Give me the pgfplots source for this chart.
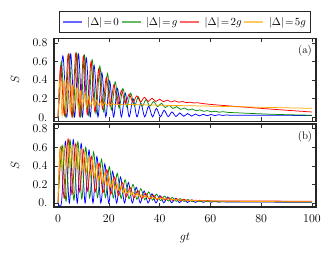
\documentclass[border=0pt]{standalone}
\usepackage{pgfplots}
\pgfplotsset{compat=1.18}
\definecolor{cB}{rgb}{0,0,1}
\definecolor{cG}{rgb}{0,0.55,0}
\definecolor{cR}{rgb}{1,0,0}
\definecolor{cO}{rgb}{1,0.65,0}
\newcommand{\eq}{\mskip2mu{=}\mskip2mu}
\begin{document}
\begin{tikzpicture}
\path[use as bounding box] (0bp,0bp) rectangle (331bp,-254bp);
\pgfplotsset{
  myax/.style={
    scale only axis, width=262bp, height=83bp,
    xmin=-1.6, xmax=101.6, ymin=-0.043, ymax=0.85,
    xtick={0,20,...,100}, ytick={0,0.2,0.4,0.6,0.8},
    yticklabels={$0.$,$0.2$,$0.4$,$0.6$,$0.8$},
    tick align=inside,
    major tick length=4bp,
    every tick/.style={black!80, line width=0.6bp},
    axis line style={black!85, line width=1.3bp},
    tick label style={font=\fontsize{12}{14}\selectfont},
    label style={font=\fontsize{12}{14}\selectfont},
    ylabel={$S$},
    ylabel style={at={(axis description cs:-0.149,0.5)}, anchor=center},
    yticklabel style={xshift=-3bp},
    xticklabel style={yshift=-4bp},
    every axis plot/.append style={line width=0.75bp, smooth, tension=0.5},
  }
}
\begin{axis}[myax, at={(54bp,-38.3bp)}, anchor=north west, xticklabels={},
  legend style={at={(0.5,1)}, anchor=south, yshift=5.3bp, draw=black!85, line width=1.3bp,
    legend columns=4, font=\fontsize{11.2}{13}\selectfont, inner xsep=2.5bp, inner ysep=3.5bp,
    /tikz/every odd column/.append style={column sep=2.5bp}},
  legend image code/.code={\draw[#1, line width=1.6bp] (0bp,0bp) -- (19bp,0bp);}]
\addlegendimage{draw=cB!60}\addlegendentry{$|\Delta|\eq0$}
\addlegendimage{draw=cG!60}\addlegendentry{$|\Delta|\eq g$}
\addlegendimage{draw=cR!60}\addlegendentry{$|\Delta|\eq2g$}
\addlegendimage{draw=cO!60}\addlegendentry{$|\Delta|\eq5g$}
% blue (a)
\addplot[cB, forget plot] coordinates {(0,0) (1.9,0.66) (3.44,0.005) (4.97,0.68) (6.51,0.005) (8.04,0.68) (9.58,0.005) (11.11,0.64) (12.65,0.005) (14.18,0.56) (15.72,0.005) (17.25,0.48) (18.79,0.005) (20.32,0.39) (21.86,0.005) (23.39,0.31) (24.93,0.005) (26.46,0.26) (28.0,0.005) (29.53,0.2) (31.07,0.005) (32.6,0.15) (34.14,0.005) (35.67,0.12) (37.21,0.005) (38.74,0.097) (40.28,0.006) (41.81,0.076) (43.35,0.007) (44.88,0.058) (46.42,0.009) (47.95,0.047) (49.49,0.011) (51.02,0.04) (52.56,0.013) (54.09,0.035) (55.63,0.015) (57.16,0.032) (58.7,0.017) (60.23,0.03) (61.77,0.019) (63.3,0.028) (64.84,0.02) (66.37,0.026) (67.91,0.021) (70,0.023) (80,0.022) (90,0.021) (100,0.02)};
% green (a)
\addplot[cG, forget plot] coordinates {(0,0) (1.3,0.6) (2.82,0.003) (4.33,0.68) (5.85,0.003) (7.36,0.69) (8.88,0.005) (10.39,0.67) (11.91,0.02) (13.42,0.62) (14.94,0.04) (16.45,0.55) (17.97,0.06) (19.48,0.47) (21.0,0.08) (22.51,0.38) (24.03,0.1) (25.54,0.31) (27.06,0.11) (28.57,0.26) (30.09,0.12) (31.6,0.22) (33.12,0.12) (34.63,0.19) (36.15,0.12) (37.66,0.17) (39.18,0.115) (40.69,0.15) (42.21,0.105) (43.72,0.13) (45.24,0.095) (46.75,0.115) (48.27,0.085) (49.78,0.1) (51.3,0.078) (52.81,0.09) (54.33,0.07) (55.84,0.08) (57.36,0.064) (58.87,0.072) (60.39,0.059) (61.9,0.065) (63.42,0.055) (64.93,0.06) (67,0.053) (70,0.049) (80,0.037) (90,0.028) (100,0.022)};
% red (a)
\addplot[cR, forget plot] coordinates {(0,0) (1,0.55) (2.5,0.02) (4,0.68) (5.5,0.003) (7,0.69) (8.5,0.01) (10,0.66) (11.5,0.03) (13,0.6) (14.5,0.06) (16,0.52) (17.5,0.09) (19,0.43) (20.5,0.12) (22,0.35) (23.5,0.14) (25,0.29) (26.5,0.15) (28,0.25) (29.5,0.16) (31,0.23) (32.5,0.165) (34,0.215) (35.5,0.17) (37,0.205) (38.5,0.17) (40,0.195) (41.5,0.168) (43,0.185) (44.5,0.165) (46,0.178) (47.5,0.162) (49,0.17) (50.5,0.158) (52,0.162) (53.5,0.155) (55,0.156) (56.5,0.15) (60,0.139) (70,0.117) (80,0.096) (90,0.076) (100,0.057)};
% orange (a)
\addplot[cO, forget plot] coordinates {(0,0) (0.8,0.42) (1.6,0.02) (2.4,0.4) (3.2,0.04) (4.0,0.37) (4.8,0.06) (5.6,0.34) (6.4,0.075) (7.2,0.31) (8.0,0.09) (8.8,0.28) (9.6,0.1) (10.4,0.25) (11.2,0.11) (12.0,0.22) (12.8,0.115) (13.6,0.2) (14.4,0.12) (15.2,0.185) (16.0,0.125) (16.8,0.17) (17.6,0.128) (18.4,0.16) (19.2,0.13) (20.0,0.155) (20.8,0.132) (21.6,0.15) (22.4,0.134) (23.2,0.145) (24,0.136) (26,0.14) (30,0.137) (40,0.13) (50,0.125) (60,0.12) (70,0.114) (80,0.108) (90,0.102) (100,0.097)};
\node[font=\fontsize{11}{13}\selectfont] at (rel axis cs:0.958,0.845) {(a)};
\end{axis}
\begin{axis}[myax, at={(54bp,-124bp)}, anchor=north west,
  xlabel={$gt$}, xlabel style={at={(axis description cs:0.5,-0.37)}, anchor=center}]
% blue (b)
\addplot[cB] coordinates {(0,0) (1.35,0.005) (2.9,0.66) (4.45,0) (6.0,0.68) (7.55,0) (9.1,0.64) (10.65,0) (12.2,0.57) (13.75,0) (15.3,0.5) (16.85,0) (18.4,0.42) (19.95,0) (21.5,0.34) (23.05,0) (24.6,0.28) (26.15,0) (27.7,0.22) (29.25,0) (30.8,0.17) (32.35,0) (33.9,0.13) (35.45,0) (37.0,0.1) (38.55,0.001) (40.1,0.08) (41.65,0.002) (43.2,0.065) (44.75,0.003) (46.3,0.05) (47.85,0.004) (49.4,0.04) (50.95,0.005) (52.5,0.032) (54.05,0.006) (55.6,0.026) (57.15,0.007) (58.7,0.021) (60.25,0.008) (61.8,0.018) (63.35,0.009) (64.9,0.015) (66.45,0.01) (70,0.011) (80,0.01) (90,0.009) (100,0.008)};
% green (b)
\addplot[cG] coordinates {(0,0) (1.6,0.62) (3.15,0.02) (4.7,0.68) (6.25,0.03) (7.8,0.66) (9.35,0.045) (10.9,0.6) (12.45,0.055) (14.0,0.55) (15.55,0.06) (17.1,0.47) (18.65,0.06) (20.2,0.39) (21.75,0.055) (23.3,0.32) (24.85,0.05) (26.4,0.25) (27.95,0.045) (29.5,0.2) (31.05,0.04) (32.6,0.155) (34.15,0.035) (35.7,0.12) (37.25,0.03) (38.8,0.095) (40.35,0.025) (41.9,0.075) (43.45,0.021) (45.0,0.06) (46.55,0.018) (48.1,0.048) (49.65,0.016) (51.2,0.038) (52.75,0.015) (54.3,0.031) (55.85,0.014) (57.4,0.026) (58.95,0.013) (60.5,0.022) (62.05,0.013) (65,0.014) (70,0.014) (80,0.013) (90,0.012) (100,0.011)};
% red (b)
\addplot[cR] coordinates {(0,0) (0.9,0.6) (2.43,0.05) (3.95,0.69) (5.48,0.09) (7.0,0.64) (8.53,0.12) (10.05,0.57) (11.58,0.13) (13.1,0.5) (14.63,0.12) (16.15,0.43) (17.68,0.11) (19.2,0.36) (20.73,0.095) (22.25,0.28) (23.78,0.08) (25.3,0.22) (26.83,0.065) (28.35,0.17) (29.88,0.055) (31.4,0.135) (32.93,0.048) (34.45,0.105) (35.98,0.042) (37.5,0.085) (39.03,0.036) (40.55,0.07) (42.08,0.031) (43.6,0.058) (45.13,0.027) (46.65,0.048) (48.18,0.024) (49.7,0.04) (51.23,0.022) (52.75,0.034) (54.28,0.021) (55.8,0.03) (57.33,0.021) (58.85,0.027) (60.38,0.021) (65,0.022) (70,0.022) (80,0.021) (90,0.02) (100,0.019)};
% orange (b)
\addplot[cO] coordinates {(0,0) (0.8,0.58) (1.6,0.36) (2.4,0.62) (3.2,0.38) (4.0,0.63) (4.8,0.39) (5.6,0.62) (6.4,0.38) (7.2,0.6) (8.0,0.37) (8.8,0.58) (9.6,0.35) (10.4,0.54) (11.2,0.33) (12.0,0.5) (12.8,0.3) (13.6,0.46) (14.4,0.28) (15.2,0.42) (16.0,0.25) (16.8,0.37) (17.6,0.22) (18.4,0.33) (19.2,0.19) (20.0,0.29) (20.8,0.17) (21.6,0.25) (22.4,0.15) (23.2,0.21) (24.0,0.13) (24.8,0.18) (25.6,0.115) (26.4,0.155) (27.2,0.1) (28.0,0.135) (28.8,0.088) (29.6,0.115) (30.4,0.078) (31.2,0.1) (32.0,0.07) (32.8,0.088) (33.6,0.063) (34.4,0.077) (35.2,0.057) (36.0,0.068) (36.8,0.052) (37.6,0.06) (38.4,0.048) (40,0.05) (45,0.038) (50,0.03) (60,0.022) (70,0.018) (80,0.016) (90,0.014) (100,0.013)};
\node[font=\fontsize{11}{13}\selectfont] at (rel axis cs:0.958,0.847) {(b)};
\end{axis}
\end{tikzpicture}
\end{document}
